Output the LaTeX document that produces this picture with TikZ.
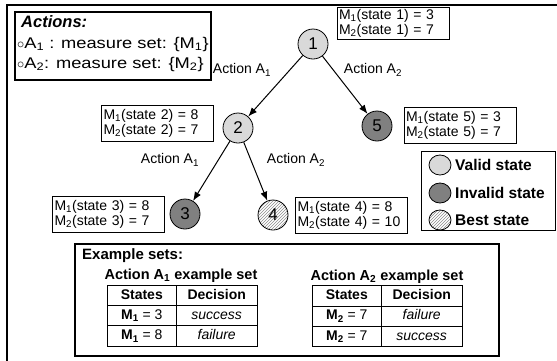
\documentclass[tikz,border=0pt]{standalone}
\usepackage{fontspec}
\setmainfont{Liberation Sans}
\newfontfamily\widefont[FakeStretch=1.18]{Liberation Sans}
\usepackage{array}
\usetikzlibrary{arrows.meta,patterns,shapes.geometric}
\newcommand{\validcolor}{black!15}
\newcommand{\invalidcolor}{black!50}
\newcommand{\ms}[1]{\textsubscript{#1}}
\newcommand{\boxfont}{\fontsize{14}{15}\selectfont}
\tikzset{
  state/.style={draw, circle, minimum size=30pt, inner sep=0pt, line width=0.8pt, font=\fontsize{17}{17}\selectfont},
  valid/.style={state, fill=\validcolor},
  invalid/.style={state, fill=\invalidcolor},
  best/.style={state, pattern=north east lines, pattern color=black!45},
  mbox/.style={draw, line width=0.8pt, align=left, text width=108pt, inner sep=2pt, minimum height=36pt, font=\boxfont},
  lbl/.style={font=\boxfont},
  trans/.style={-{Latex[length=9pt,width=7pt]}, line width=1pt},
  frame/.style={draw, line width=1.8pt, anchor=north west},
  key/.style={draw, ellipse, minimum width=22pt, minimum height=20pt, inner sep=0pt, line width=0.8pt},
  keytext/.style={anchor=west, inner sep=1pt, font=\bfseries\fontsize{15.5}{15.5}\selectfont},
  settitle/.style={font=\bfseries\fontsize{14.5}{14.5}\selectfont},
}

\begin{document}
\begin{tikzpicture}[x=1pt, y=-1pt]
\useasboundingbox (0,0) rectangle (557,360);
\draw[line width=2.5pt] (7,5) rectangle (575,380);
% actions
\node[frame, minimum width=196pt, minimum height=68pt] (actions) at (14,11) {};
\node[anchor=west, inner sep=1pt, font=\bfseries\itshape\fontsize{16.5}{16.5}\selectfont] (acttitle) at (20,22) {Actions:};
\node[anchor=west, inner sep=1pt, font=\widefont\fontsize{15.5}{15.5}\selectfont] (act1) at (16,44) {$\circ$A\ms{1} : measure set: \{M\ms{1}\}};
\node[anchor=west, inner sep=1pt, font=\widefont\fontsize{15.5}{15.5}\selectfont] (act2) at (16,64) {$\circ$A\ms{2}: measure set: \{M\ms{2}\}};
% states
\node[valid] (1) at (313,44) {1};
\node[valid] (2) at (238,128) {2};
\node[invalid] (5) at (377,126) {5};
\node[invalid] (3) at (185,214) {3};
\node[best] (4) at (273,215) {4};
\draw[trans] (1) -- (2);
\draw[trans] (1) -- (5);
\draw[trans] (2) -- (3);
\draw[trans] (2) -- (4);
\node[lbl] (a11) at (242,70) {Action A\ms{1}};
\node[lbl] (a12) at (373,70) {Action A\ms{2}};
\node[lbl] (a21) at (170,160) {Action A\ms{1}};
\node[lbl] (a22) at (296,160) {Action A\ms{2}};
% measures
\node[mbox, minimum height=31pt] (m1) at (393,23) {M\ms{1}(state 1) = 3\\M\ms{2}(state 1) = 7};
\node[mbox] (m2) at (157.5,123.5) {M\ms{1}(state 2) = 8\\M\ms{2}(state 2) = 7};
\node[mbox] (m5) at (460,125) {M\ms{1}(state 5) = 3\\M\ms{2}(state 5) = 7};
\node[mbox] (m3) at (108.5,214) {M\ms{1}(state 3) = 8\\M\ms{2}(state 3) = 7};
\node[mbox] (m4) at (351.5,215) {M\ms{1}(state 4) = 8\\M\ms{2}(state 4) = 10};
% legend
\node[frame, line width=1pt, minimum width=134pt, minimum height=79pt] (legend) at (421,151) {};
\node[key, fill=\validcolor] (kvalid) at (440,165) {};
\node[key, fill=\invalidcolor] (kinvalid) at (440,193) {};
\node[key, pattern=north east lines, pattern color=black!45] (kbest) at (440,220) {};
\node[keytext] (tvalid) at (454,165) {Valid state};
\node[keytext] (tinvalid) at (454,193) {Invalid state};
\node[keytext] (tbest) at (454,220) {Best state};
% example sets
\node[frame, minimum width=424pt, minimum height=112pt] (examples) at (74,243) {};
\node[anchor=west, inner sep=1pt, font=\bfseries\fontsize{15}{15}\selectfont] (extitle) at (81,256) {Example sets:};
\node[settitle] (ex1) at (181,276) {Action A\ms{1} example set};
\node[settitle] (ex2) at (387,277) {Action A\ms{2} example set};
\node[inner sep=0pt, font=\boxfont] (tab1) at (182.5,315.5) {%
\setlength{\tabcolsep}{0pt}\renewcommand{\arraystretch}{1.33}%
\begin{tabular}{|>{\centering\arraybackslash}p{68pt}|>{\centering\arraybackslash}p{81pt}|}\hline
\textbf{States} & \textbf{Decision}\\\hline
\textbf{M\ms{1}} = 3 & \textit{success}\\\hline
\textbf{M\ms{1}} = 8 & \textit{failure}\\\hline
\end{tabular}};
\node[inner sep=0pt, font=\boxfont] (tab2) at (387.5,316) {%
\setlength{\tabcolsep}{0pt}\renewcommand{\arraystretch}{1.33}%
\begin{tabular}{|>{\centering\arraybackslash}p{68pt}|>{\centering\arraybackslash}p{81pt}|}\hline
\textbf{States} & \textbf{Decision}\\\hline
\textbf{M\ms{2}} = 7 & \textit{failure}\\\hline
\textbf{M\ms{2}} = 7 & \textit{success}\\\hline
\end{tabular}};
\end{tikzpicture}
\end{document}
